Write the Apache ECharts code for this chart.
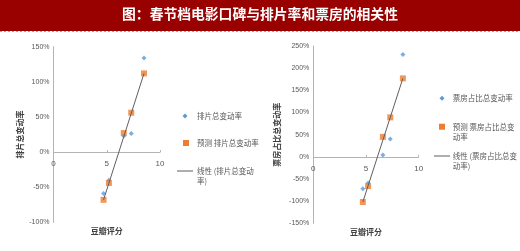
<!DOCTYPE html>
<html><head><meta charset="utf-8">
<script src="https://cdn.jsdelivr.net/npm/echarts@6/dist/echarts.min.js"></script>
<style>html,body{margin:0;padding:0;background:#fff}#c{width:520px;height:251px}</style>
</head><body><div id="c"></div>
<script>
const titleText = '图：春节档电影口碑与排片率和票房的相关性';
const xName = '豆瓣评分';
const xTicks = [0, 5, 10];
const ratings = [4.7, 5.2, 6.6, 7.3, 8.5];
// left chart
const screenName = '排片总变动率';
const screenChange = [-59, -40, 23, 26.5, 134];
const screenPred = [-68, -44, 27, 56, 112];
const screenTrendX = [4.7, 8.5];
const screenTrend = [-68, 112];
const screenYTicks = [-100, -50, 0, 50, 100, 150];
// right chart
const boxName = '票房占比总变动率';
const boxChange = [-72, -59, 4, 40, 231];
const boxPred = [-102, -66, 45, 89, 177];
const boxTrendX = [4.7, 8.5];
const boxTrend = [-102, 177];
const boxYTicks = [-150, -100, -50, 0, 50, 100, 150, 200, 250];

const BLUE = '#5B9BD5', ORANGE = '#ED7D31', TREND = '#5f5f5f', AX = '#b3b3b3', TXT = '#595959';
const FONT = '"Noto Sans CJK SC", "Noto Sans", sans-serif';

function pairs(xs, ys) { return xs.map((x, i) => [x, ys[i]]); }

// offset moves the x axis up from the grid bottom to the y=0 line
function xAxis(idx, gap, ticksY) {
  const lo = ticksY[0], hi = ticksY[ticksY.length - 1];
  return {
    type: 'value', gridIndex: idx, min: xTicks[0], max: xTicks[xTicks.length - 1], interval: 5,
    name: xName, nameLocation: 'middle', nameGap: gap,
    nameTextStyle: { fontFamily: FONT, fontSize: 8, fontWeight: 'bold', color: '#404040' },
    offset: 0,
    axisLine: { onZero: false, lineStyle: { color: AX, width: 1 } },
    axisTick: { show: true, inside: true, length: 2, lineStyle: { color: AX } },
    axisLabel: { fontFamily: 'Liberation Sans, Arial', fontSize: 8, color: TXT, margin: 8 },
    splitLine: { show: false },
    _frac: (0 - lo) / (hi - lo)
  };
}
function yAxis(idx, ticks, name, gap) {
  return {
    type: 'value', gridIndex: idx, min: ticks[0], max: ticks[ticks.length - 1], interval: 50,
    name: name, nameLocation: 'middle', nameGap: gap,
    nameTextStyle: { fontFamily: FONT, fontSize: 8, fontWeight: 'bold', color: '#404040' },
    axisLine: { show: true, onZero: false, lineStyle: { color: AX, width: 1 } },
    axisTick: { show: false },
    axisLabel: { fontFamily: 'Liberation Sans, Arial', fontSize: 7, color: TXT, margin: 4, formatter: '{value}%' },
    splitLine: { show: false }
  };
}

function legendGraphics(x0, items) {
  const out = [];
  items.forEach(it => {
    if (it.kind === 'diamond') {
      out.push({ type: 'polygon', shape: { points: [[it.ix, it.y - 2.5], [it.ix + 2.5, it.y], [it.ix, it.y + 2.5], [it.ix - 2.5, it.y]] }, style: { fill: BLUE } });
    } else if (it.kind === 'square') {
      out.push({ type: 'rect', shape: { x: it.ix - 3, y: it.y - 3, width: 6, height: 6 }, style: { fill: ORANGE } });
    } else {
      out.push({ type: 'line', shape: { x1: it.ix - 8, y1: it.y, x2: it.ix + 8, y2: it.y }, style: { stroke: TREND, lineWidth: 1 } });
    }
    it.lines.forEach((t, k) => {
      out.push({ type: 'text', x: x0, y: it.y + k * it.lh, style: { text: t, fill: TXT, font: '7.5px ' + FONT, textVerticalAlign: 'middle', textAlign: 'left' } });
    });
  });
  return out;
}

const grids = [
  { left: 53.5, top: 46.7, width: 106.5, height: 175.6, containLabel: false, outerBoundsMode: 'none' },
  { left: 313.3, top: 46, width: 105.4, height: 177.3, containLabel: false, outerBoundsMode: 'none' }
];
const xAxes = [xAxis(0, 75, screenYTicks), xAxis(1, 71, boxYTicks)];
xAxes.forEach((a, i) => { a.offset = -grids[i].height * a._frac; delete a._frac; });

const chart = echarts.init(document.getElementById('c'), null, { renderer: 'canvas' });
const graphics = [
  { type: 'rect', shape: { x: 0, y: 0, width: 520, height: 31 }, style: { fill: '#990000' }, z: -1 },
  { type: 'line', shape: { x1: 0, y1: 31.5, x2: 520, y2: 31.5 }, style: { stroke: '#9a9ad2', lineWidth: 1, lineDash: [2, 2] } },
  { type: 'text', x: 260, y: 14, style: { text: titleText, fill: '#ffffff', font: 'bold 13.8px ' + FONT, textAlign: 'center', textVerticalAlign: 'middle' } }
].concat(legendGraphics(197, [
  { kind: 'diamond', ix: 185, y: 116, lines: [screenName], lh: 10 },
  { kind: 'square', ix: 186, y: 143, lines: ['预测 ' + screenName], lh: 10 },
  { kind: 'line', ix: 185, y: 171, lines: ['线性 (排片总变动', '率)'], lh: 10 }
])).concat(legendGraphics(452.7, [
  { kind: 'diamond', ix: 442, y: 98.3, lines: [boxName], lh: 10.5 },
  { kind: 'square', ix: 442, y: 126.7, lines: ['预测 票房占比总变', '动率'], lh: 10.6 },
  { kind: 'line', ix: 442, y: 156, lines: ['线性 (票房占比总变', '动率)'], lh: 9.8 }
]));

chart.setOption({
  animation: false,
  backgroundColor: '#ffffff',
  grid: grids,
  xAxis: xAxes,
  yAxis: [yAxis(0, screenYTicks, screenName, 30), yAxis(1, boxYTicks, boxName, 32)],
  graphic: graphics,
  series: [
    { name: screenName, type: 'scatter', xAxisIndex: 0, yAxisIndex: 0, symbol: 'diamond', symbolSize: 5, itemStyle: { color: BLUE }, data: pairs(ratings, screenChange), z: 2 },
    { name: '预测 ' + screenName, type: 'scatter', xAxisIndex: 0, yAxisIndex: 0, symbol: 'rect', symbolSize: 6, itemStyle: { color: ORANGE }, data: pairs(ratings, screenPred), z: 3 },
    { name: '线性 (' + screenName + ')', type: 'line', xAxisIndex: 0, yAxisIndex: 0, showSymbol: false, lineStyle: { color: TREND, width: 1 }, data: pairs(screenTrendX, screenTrend), z: 4 },
    { name: boxName, type: 'scatter', xAxisIndex: 1, yAxisIndex: 1, symbol: 'diamond', symbolSize: 5, itemStyle: { color: BLUE }, data: pairs(ratings, boxChange), z: 2 },
    { name: '预测 ' + boxName, type: 'scatter', xAxisIndex: 1, yAxisIndex: 1, symbol: 'rect', symbolSize: 6, itemStyle: { color: ORANGE }, data: pairs(ratings, boxPred), z: 3 },
    { name: '线性 (' + boxName + ')', type: 'line', xAxisIndex: 1, yAxisIndex: 1, showSymbol: false, lineStyle: { color: TREND, width: 1 }, data: pairs(boxTrendX, boxTrend), z: 4 }
  ]
});
</script></body></html>
